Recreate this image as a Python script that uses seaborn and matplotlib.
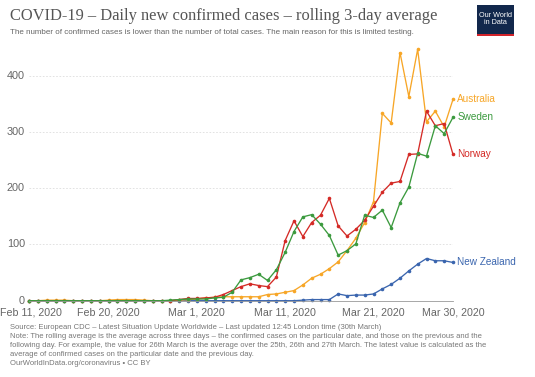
import numpy as np
import pandas as pd
import seaborn as sns
import matplotlib.pyplot as plt
import matplotlib.dates as mdates
import matplotlib.transforms as mtrans
from matplotlib.patches import Rectangle

# daily rolling 3-day averages, Feb 11 2020 .. Mar 30 2020 (49 days)
dates = pd.date_range('2020-02-11', '2020-03-30', freq='D')

australia = [0, 0, 1, 1, 1, 0, 0, 0, 0, 1, 2, 2, 2, 1, 0, 0, 0, 1, 2, 3,
             5, 6, 7, 7, 7, 7, 7, 11, 12, 15, 18, 28, 40, 47, 57, 69, 89, 111, 139, 176,
             333, 316, 441, 363, 447, 318, 337, 309, 358]
sweden = [0, 0, 0, 0, 0, 0, 0, 0, 0, 0, 0, 0, 0, 0, 0, 0, 1, 2, 3, 3,
          3, 5, 6, 15, 37, 41, 47, 36, 55, 86, 123, 149, 153, 136, 116, 81, 89, 101, 152, 148,
          161, 130, 174, 202, 262, 257, 311, 297, 326]
norway = [0, 0, 0, 0, 0, 0, 0, 0, 0, 0, 0, 0, 0, 0, 0, 0, 0, 2, 4, 4,
          5, 6, 11, 18, 25, 30, 27, 25, 42, 107, 142, 114, 139, 152, 182, 133, 115, 127, 143, 168,
          193, 209, 212, 260, 261, 337, 311, 315, 260]
new_zealand = [0, 0, 0, 0, 0, 0, 0, 0, 0, 0, 0, 0, 0, 0, 0, 0, 0, 0, 0, 0,
               0, 0, 0, 0, 0, 0, 0, 0, 0, 0, 0, 1, 2, 2, 2, 12, 9, 10, 10, 12,
               21, 29, 40, 53, 65, 75, 71, 71, 68]

countries = ['New Zealand', 'Australia', 'Norway', 'Sweden']
colors = {'Australia': '#f7a627', 'Sweden': '#3b9a3e',
          'Norway': '#d42a26', 'New Zealand': '#3a65ae'}

series = {'Australia': australia, 'Sweden': sweden,
          'Norway': norway, 'New Zealand': new_zealand}
df = pd.concat([
    pd.DataFrame({'date': dates, 'cases': series[c], 'country': c})
    for c in countries
])

sns.set_style('white')
plt.rcParams['font.family'] = ['Liberation Sans', 'DejaVu Sans']

W, H = 535, 377
fig = plt.figure(figsize=(W / 100, H / 100), dpi=100)
left, right, y0, ytop = 29, 453, 300.7, 44.8
ymax = (y0 - ytop) / 0.5625
ax = fig.add_axes([left / W, 1 - y0 / H, (right - left) / W, (y0 - ytop) / H])

sns.lineplot(data=df, x='date', y='cases', hue='country', hue_order=countries,
             palette=colors, marker='o', markersize=2.6, markeredgewidth=0,
             linewidth=0.95, legend=False, ax=ax)
for line in ax.lines:
    line.set_clip_on(False)

ax.set_xlim(dates[0], dates[-1])
ax.set_ylim(0, ymax)
ax.set_yticks([0, 100, 200, 300, 400])
ticks = pd.to_datetime(['2020-02-11', '2020-02-20', '2020-03-01',
                        '2020-03-11', '2020-03-21', '2020-03-30'])
ax.set_xticks(ticks)
ax.xaxis.set_major_formatter(mdates.DateFormatter('%b %-d, %Y'))
ax.set_xlabel('')
ax.set_ylabel('')
ax.tick_params(axis='x', length=3, width=0.6, color='#999999', labelsize=7.7,
               labelcolor='#666666', pad=2)
ax.tick_params(axis='y', length=0, labelsize=7.8, labelcolor='#666666', pad=3)
for lab in ax.get_yticklabels():
    lab.set_verticalalignment('center')
# keep the first date label inside the canvas
first = ax.get_xticklabels()[0]
first.set_transform(first.get_transform() +
                    mtrans.ScaledTranslation(2 / 100, 0, fig.dpi_scale_trans))
ax.grid(axis='y', color='#dddddd', linestyle=(0, (2, 2)), linewidth=0.6)
ax.grid(axis='x', visible=False)
for s in ['top', 'right', 'left']:
    ax.spines[s].set_visible(False)
ax.spines['bottom'].set_color('#999999')
ax.spines['bottom'].set_linewidth(0.6)

# series labels at the line ends
label_y = {'Australia': 358, 'Sweden': 327, 'Norway': 261, 'New Zealand': 68}
for c in countries:
    ax.annotate(c, xy=(dates[-1], label_y[c]), xytext=(3, 0),
                textcoords='offset points', color=colors[c], fontsize=7.2,
                va='center', ha='left', annotation_clip=False)

# header
fig.text(10 / W, 1 - 16 / H, 'COVID-19 – Daily new confirmed cases – rolling 3-day average',
         family=['Liberation Serif', 'DejaVu Serif'], fontsize=11.9, color='#555555',
         va='center', ha='left')
fig.text(10 / W, 1 - 32 / H,
         'The number of confirmed cases is lower than the number of total cases. '
         'The main reason for this is limited testing.',
         fontsize=5.8, color='#666666', va='center', ha='left')

# logo
lx0, lx1, ly0, ly1 = 477, 514, 5, 36
fig.patches.append(Rectangle((lx0 / W, 1 - ly1 / H), (lx1 - lx0) / W, (ly1 - ly0) / H,
                             transform=fig.transFigure, facecolor='#12284c',
                             edgecolor='none'))
fig.patches.append(Rectangle((lx0 / W, 1 - ly1 / H), (lx1 - lx0) / W, 2.5 / H,
                             transform=fig.transFigure, facecolor='#d2232a',
                             edgecolor='none'))
fig.text((lx0 + lx1) / 2 / W, 1 - 19 / H, 'Our World\nin Data', color='white',
         fontsize=5.2, ha='center', va='center', linespacing=1.0)

# footer
footer = [
    'Source: European CDC – Latest Situation Update Worldwide – Last updated 12:45 London time (30th March)',
    'Note: The rolling average is the average across three days – the confirmed cases on the particular date, and those on the previous and the',
    'following day. For example, the value for 26th March is the average over the 25th, 26th and 27th March. The latest value is calculated as the',
    'average of confirmed cases on the particular date and the previous day.',
    'OurWorldInData.org/coronavirus • CC BY',
]
for i, line in enumerate(footer):
    fig.text(10 / W, 1 - (327.5 + 9 * i) / H, line, fontsize=5.5, color='#777777',
             va='center', ha='left')

fig.savefig('out.png', dpi=100)
